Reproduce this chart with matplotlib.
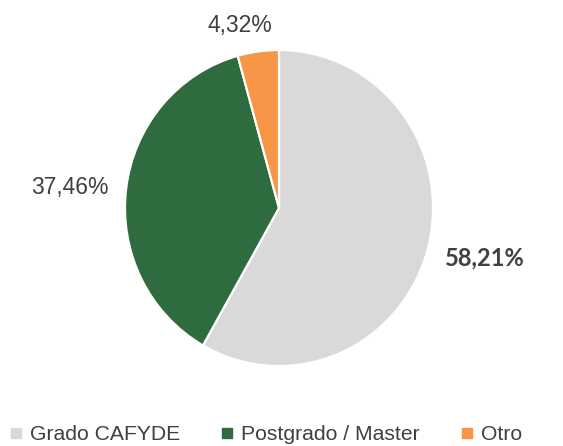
import matplotlib.pyplot as plt
from matplotlib.lines import Line2D

# --- Data ---
categories = ["Grado CAFYDE", "Postgrado / Master", "Otro"]
values = [58.21, 37.46, 4.32]
labels = ["58,21%", "37,46%", "4,32%"]
colors = ["#D9D9D9", "#2E6B3F", "#F79646"]

# label placement (data coords) and weight
label_pos = [(1.338, -0.316), (-1.357, 0.127), (-0.253, 1.158)]
label_weight = ["bold", "normal", "normal"]

text_color = "#404040"

# --- Figure ---
fig = plt.figure(figsize=(5.63, 4.46), dpi=100)
ax = fig.add_axes([125 / 563, 80 / 446, 308 / 563, 316 / 446])

ax.pie(values, colors=colors, startangle=90, counterclock=False,
       wedgeprops=dict(edgecolor="white", linewidth=1.6))
ax.set_aspect("auto")
ax.set_xlim(-1, 1)
ax.set_ylim(-1, 1)
ax.axis("off")

for (x, y), txt, w in zip(label_pos, labels, label_weight):
    if w == "bold":
        ax.text(x, y, txt, ha="center", va="center", fontsize=17,
                fontweight="bold", family="Lato", color=text_color, clip_on=False)
    else:
        ax.text(x, y, txt, ha="center", va="center", fontsize=16.5,
                family="Liberation Sans", color=text_color, clip_on=False)

# --- Legend ---
handles = [Line2D([], [], marker="s", linestyle="none", markersize=7,
                  markerfacecolor=c, markeredgecolor=c) for c in colors]
leg = fig.legend(handles, categories, loc="center", ncol=3,
                 bbox_to_anchor=(0.472, 1 - 435 / 446), frameon=False,
                 prop={"family": "Liberation Sans", "size": 15.2},
                 handlelength=0.6, handletextpad=0.35, columnspacing=1.95,
                 labelcolor=text_color)

fig.savefig("out.png", dpi=100)
